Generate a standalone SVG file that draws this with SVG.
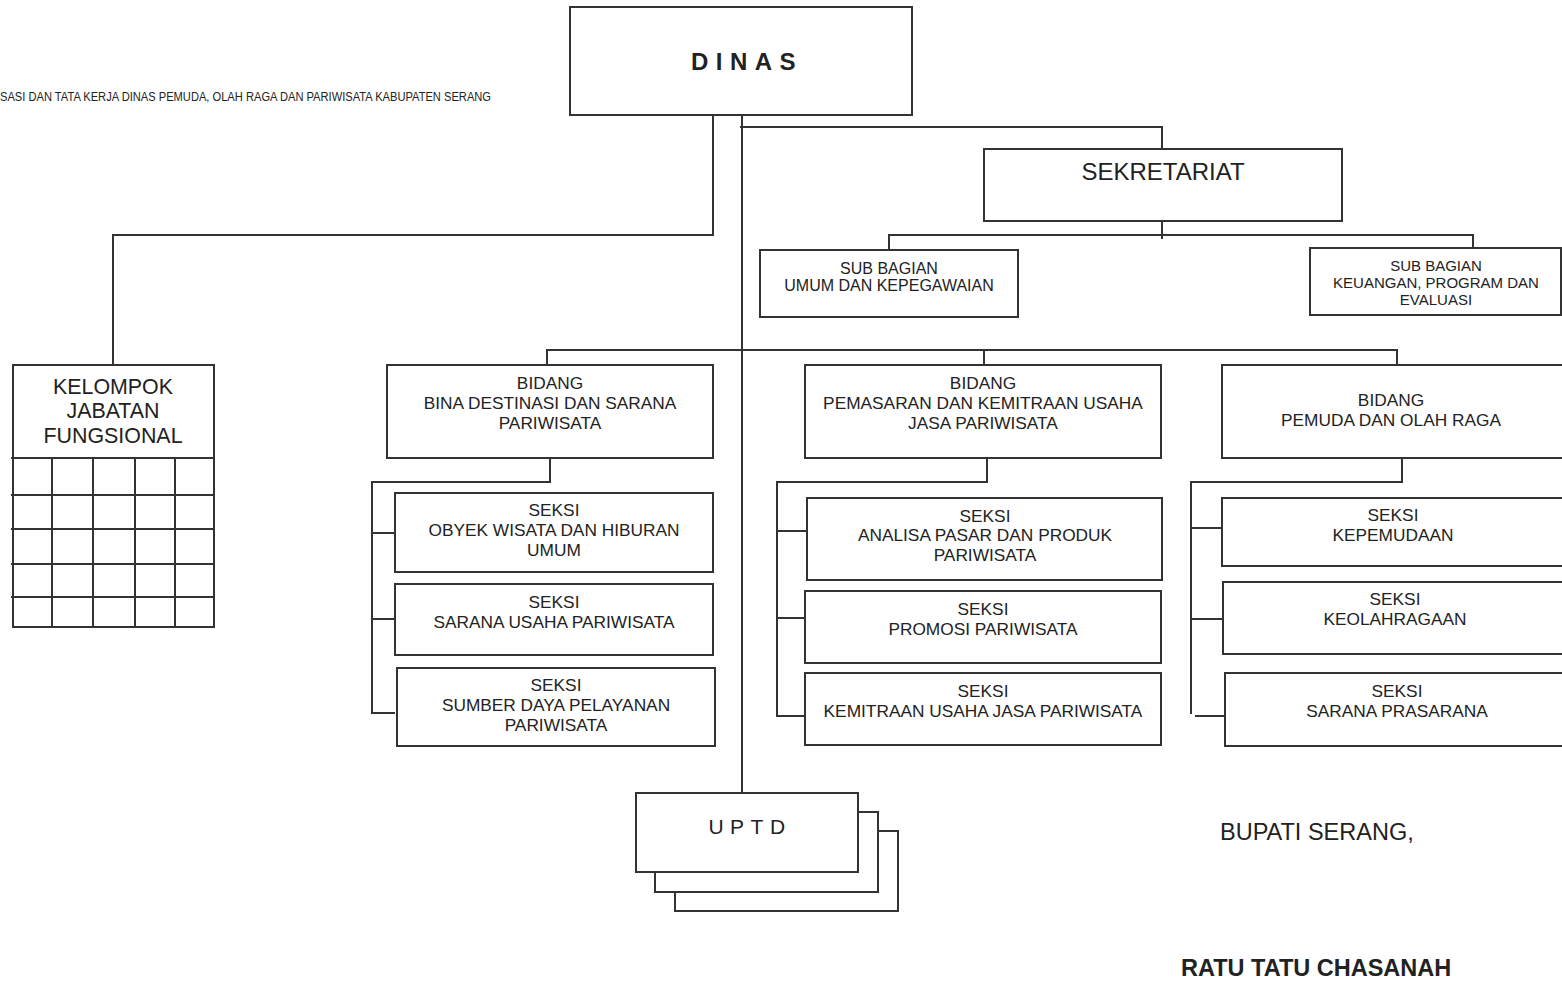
<svg xmlns="http://www.w3.org/2000/svg" width="1562" height="981" viewBox="0 0 1562 981">
<style>
.box{fill:#fff;stroke:#333;stroke-width:2}
.ln{fill:none;stroke:#333;stroke-width:2}
text{font-family:"Liberation Sans",Arial,sans-serif;fill:#222;text-anchor:middle}
.t16{font-size:17.3px}
.t15{font-size:16px}
.t14{font-size:15px}
</style>
<rect width="1562" height="981" fill="#fff"/>
<text x="0" y="101" style="text-anchor:start;font-size:12px" textLength="491" lengthAdjust="spacingAndGlyphs">SASI DAN TATA KERJA DINAS PEMUDA, OLAH RAGA DAN PARIWISATA KABUPATEN SERANG</text>

<g id="connectors">
<path class="ln" d="M713 115 V235 H113 V365"/>
<path class="ln" d="M742 115 V793"/>
<path class="ln" d="M740 127 H1162 V149"/>
<path class="ln" d="M1162 221 V239"/>
<path class="ln" d="M889 250 V235 H1473 V248"/>
<path class="ln" d="M547 365 V350 H1397 V365"/>
<path class="ln" d="M984 350 V365"/>
<path class="ln" d="M550 458 V482 H372 V713 H395"/>
<path class="ln" d="M372 533 H395 M372 619 H395"/>
<path class="ln" d="M987 458 V482 H777 V716 H805"/>
<path class="ln" d="M777 531 H807 M777 618 H805"/>
<path class="ln" d="M1402 458 V482 H1191 V714"/>
<path class="ln" d="M1191 528 H1222 M1191 619 H1223 M1195 716 H1225"/>
</g>

<g id="dinas">
<rect class="box" x="570" y="7" width="342" height="108"/>
<text x="747" y="70" style="font-size:24px;font-weight:bold;letter-spacing:7.5px">DINAS</text>
</g>

<g id="sekretariat">
<rect class="box" x="984" y="149" width="358" height="72"/>
<text x="1163" y="180" style="font-size:24px">SEKRETARIAT</text>
</g>

<g id="subbag-umum">
<rect class="box" x="760" y="250" width="258" height="67"/>
<text class="t15" x="889" y="274">SUB BAGIAN</text>
<text class="t15" x="889" y="291">UMUM DAN KEPEGAWAIAN</text>
</g>

<g id="subbag-keuangan">
<rect class="box" x="1310" y="248" width="251" height="67"/>
<text class="t14" x="1436" y="271">SUB BAGIAN</text>
<text class="t14" x="1436" y="288">KEUANGAN, PROGRAM DAN</text>
<text class="t14" x="1436" y="305">EVALUASI</text>
</g>

<g id="kelompok">
<rect class="box" x="13" y="365" width="201" height="262"/>
<path class="ln" d="M11 458 H214 M11 495 H214 M11 529 H214 M11 564 H214 M11 597 H214 M52 458 V627 M93 458 V627 M135 458 V627 M175 458 V627"/>
<text x="113" y="394" style="font-size:21.4px">KELOMPOK</text>
<text x="113" y="418" style="font-size:21.4px">JABATAN</text>
<text x="113" y="443" style="font-size:21.4px">FUNGSIONAL</text>
</g>

<g id="bidang-bina">
<rect class="box" x="387" y="365" width="326" height="93"/>
<text class="t16" x="550" y="389">BIDANG</text>
<text class="t16" x="550" y="409">BINA DESTINASI DAN SARANA</text>
<text class="t16" x="550" y="429">PARIWISATA</text>
</g>

<g id="bidang-pemasaran">
<rect class="box" x="805" y="365" width="356" height="93"/>
<text class="t16" x="983" y="389">BIDANG</text>
<text class="t16" x="983" y="409">PEMASARAN DAN KEMITRAAN USAHA</text>
<text class="t16" x="983" y="429">JASA PARIWISATA</text>
</g>

<g id="bidang-pemuda">
<rect class="box" x="1222" y="365" width="342" height="93"/>
<text class="t16" x="1391" y="406">BIDANG</text>
<text class="t16" x="1391" y="426">PEMUDA DAN OLAH RAGA</text>
</g>

<g id="seksi-obyek">
<rect class="box" x="395" y="493" width="318" height="79"/>
<text class="t16" x="554" y="516">SEKSI</text>
<text class="t16" x="554" y="536">OBYEK WISATA DAN HIBURAN</text>
<text class="t16" x="554" y="556">UMUM</text>
</g>

<g id="seksi-sarana-usaha">
<rect class="box" x="395" y="584" width="318" height="71"/>
<text class="t16" x="554" y="608">SEKSI</text>
<text class="t16" x="554" y="628">SARANA USAHA PARIWISATA</text>
</g>

<g id="seksi-sumber-daya">
<rect class="box" x="397" y="668" width="318" height="78"/>
<text class="t16" x="556" y="691">SEKSI</text>
<text class="t16" x="556" y="711">SUMBER DAYA PELAYANAN</text>
<text class="t16" x="556" y="731">PARIWISATA</text>
</g>

<g id="seksi-analisa">
<rect class="box" x="807" y="498" width="355" height="82"/>
<text class="t16" x="985" y="522">SEKSI</text>
<text class="t16" x="985" y="541">ANALISA PASAR DAN PRODUK</text>
<text class="t16" x="985" y="561">PARIWISATA</text>
</g>

<g id="seksi-promosi">
<rect class="box" x="805" y="591" width="356" height="72"/>
<text class="t16" x="983" y="615">SEKSI</text>
<text class="t16" x="983" y="635">PROMOSI PARIWISATA</text>
</g>

<g id="seksi-kemitraan">
<rect class="box" x="805" y="673" width="356" height="72"/>
<text class="t16" x="983" y="697">SEKSI</text>
<text class="t16" x="983" y="717">KEMITRAAN USAHA JASA PARIWISATA</text>
</g>

<g id="seksi-kepemudaan">
<rect class="box" x="1222" y="498" width="342" height="68"/>
<text class="t16" x="1393" y="521">SEKSI</text>
<text class="t16" x="1393" y="541">KEPEMUDAAN</text>
</g>

<g id="seksi-keolahragaan">
<rect class="box" x="1223" y="582" width="341" height="72"/>
<text class="t16" x="1395" y="605">SEKSI</text>
<text class="t16" x="1395" y="625">KEOLAHRAGAAN</text>
</g>

<g id="seksi-sarana-prasarana">
<rect class="box" x="1225" y="673" width="339" height="73"/>
<text class="t16" x="1397" y="697">SEKSI</text>
<text class="t16" x="1397" y="717">SARANA PRASARANA</text>
</g>

<g id="uptd">
<rect class="box" x="675" y="831" width="223" height="80"/>
<rect class="box" x="655" y="812" width="223" height="80"/>
<rect class="box" x="636" y="793" width="222" height="79"/>
<text x="750" y="834" style="font-size:21px;letter-spacing:6.5px">UPTD</text>
</g>

<g id="signature">
<text x="1220" y="840" style="text-anchor:start;font-size:23.5px">BUPATI SERANG,</text>
<text x="1181" y="976" style="text-anchor:start;font-size:23.5px;font-weight:bold">RATU TATU CHASANAH</text>
</g>
</svg>
